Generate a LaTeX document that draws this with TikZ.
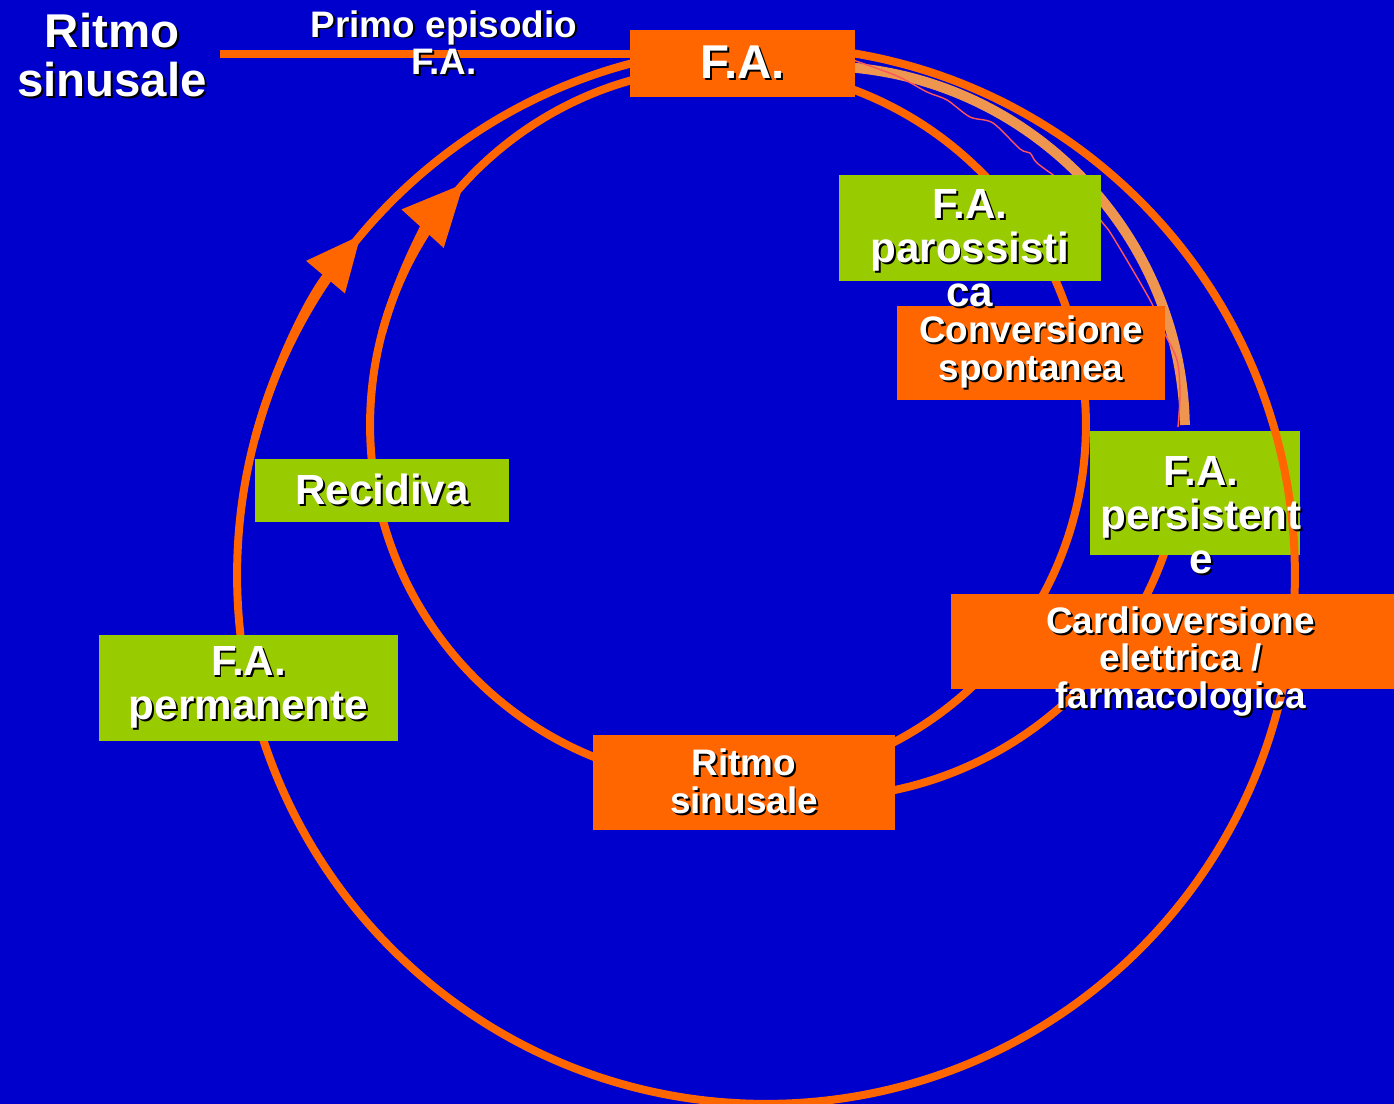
\documentclass[tikz,border=0pt]{standalone}
\usepackage{fontspec}
\setmainfont{Liberation Sans}
\usepackage{xcolor}
\usepackage{tikz}
\usetikzlibrary{arrows.meta}
\usetikzlibrary{calc}

\definecolor{slideblue}{RGB}{0,0,204}
\definecolor{faorange}{RGB}{255,102,0}
\definecolor{fagreen}{RGB}{153,204,0}
\definecolor{paleorange}{RGB}{238,150,80}
\definecolor{scribble}{RGB}{255,85,90}

% white text with a black drop shadow
\newcommand{\sh}[1]{\leavevmode\rlap{\kern1.1pt\raisebox{-1.1pt}{\color{black}#1}}#1}

\begin{document}
\begin{tikzpicture}[x=0.02cm, y=-0.02cm,
		ring/.style={draw=faorange, line width=0.16cm},
		ringtip/.style={-{Triangle[length=1.1cm, width=0.97cm]}},
		bigtip/.style={-{Triangle[length=1.22cm, width=1.1cm]}},
		fabox/.style={inner sep=0pt, text=white, align=center},
		orangebox/.style={fabox, fill=faorange},
		greenbox/.style={fabox, fill=fagreen},
		hang/.style={text=white, align=center, inner sep=0pt},
		hugetext/.style={font=\fontsize{27}{27.5}\selectfont\bfseries},
		bigtext/.style={font=\fontsize{24}{25}\selectfont\bfseries},
		smalltext/.style={font=\fontsize{21}{21.5}\selectfont\bfseries}
	]
	\fill[slideblue] (0,0) rectangle (1394,1104);
	\useasboundingbox (0,0) rectangle (1394,1104);

	\coordinate (oc) at (766,575);
	\coordinate (ic) at (728,425);
	\coordinate (mc) at (819,432);
	\coordinate (start) at (220,54);

	% cycles
	\draw[ring] (ic) circle[radius=7.16cm];
	\draw[ring] ($(mc)+(-10:7.32cm)$) arc[start angle=-10, end angle=-80, radius=7.32cm];
	\draw[draw=paleorange, line width=0.2cm] ($(mc)+(88:7.32cm)$) arc[start angle=88, end angle=1.1, radius=7.32cm];
	\draw[scribble, line width=0.8pt] plot[smooth] coordinates {(853,60) (897,76) (927,92) (947,100) (970,117) (993,123) (1020,149) (1030,153) (1037,163) (1060,180) (1085,200) (1102,222) (1113,237) (1150,300) (1163,330) (1177,360) (1180,393) (1178,427)};
	\draw[ring] (oc) circle[radius=10.58cm];
	\draw[ring, ringtip] ($(oc)+(165:10.58cm)$) arc[start angle=165, end angle=140, radius=10.58cm];
	\draw[ring, bigtip] ($(ic)+(165:7.16cm)$) arc[start angle=165, end angle=137.6, radius=7.16cm];

	% boxes
	\node[orangebox, smalltext, minimum width=5.36cm, minimum height=1.9cm] (conv) at (1031,353) {\sh{Conversione}\\\sh{spontanea}};
	\node[greenbox, minimum width=5.24cm, minimum height=2.12cm,
		label={[hang, bigtext, yshift=-0.42cm]center:\sh{F.A.}\\\sh{parossisti}\\\sh{ca}}] (paro) at (970,228) {};
	\node[greenbox, minimum width=4.2cm, minimum height=2.48cm,
		path picture={\draw[ring] (oc) circle[radius=10.58cm];},
		label={[hang, bigtext, xshift=0.12cm, yshift=-0.46cm]center:\sh{F.A.}\\\sh{persistent}\\\sh{e}}] (pers) at (1195,493) {};
	\node[orangebox, minimum width=9.18cm, minimum height=1.9cm,
		label={[hang, smalltext, yshift=-0.42cm]center:\sh{Cardioversione}\\\sh{elettrica /}\\\sh{farmacologica}}] (cardio) at (1180.5,641.5) {};
	\node[orangebox, smalltext, minimum width=6.04cm, minimum height=1.9cm] (sinus) at (744,782.5) {\sh{Ritmo}\\\sh{sinusale}};
	\node[greenbox, bigtext, minimum width=5.08cm, minimum height=1.26cm] (rec) at (382,490.5) {\sh{Recidiva}};
	\node[greenbox, bigtext, minimum width=5.98cm, minimum height=2.12cm] (perm) at (248.5,688) {\sh{F.A.}\\\sh{permanente}};
	\node[orangebox, hugetext, minimum width=4.5cm, minimum height=1.34cm] (fa) at (742.5,63.5) {\sh{F.A.}};

	% first episode
	\node[hang, hugetext] (rsleft) at (112,56) {\sh{Ritmo}\\\sh{sinusale}};
	\draw[ring] (start) -- (start -| fa.west);
	\node[hang, smalltext] (primo) at (444,43.5) {\sh{Primo episodio}\\\sh{F.A.}};
\end{tikzpicture}
\end{document}
